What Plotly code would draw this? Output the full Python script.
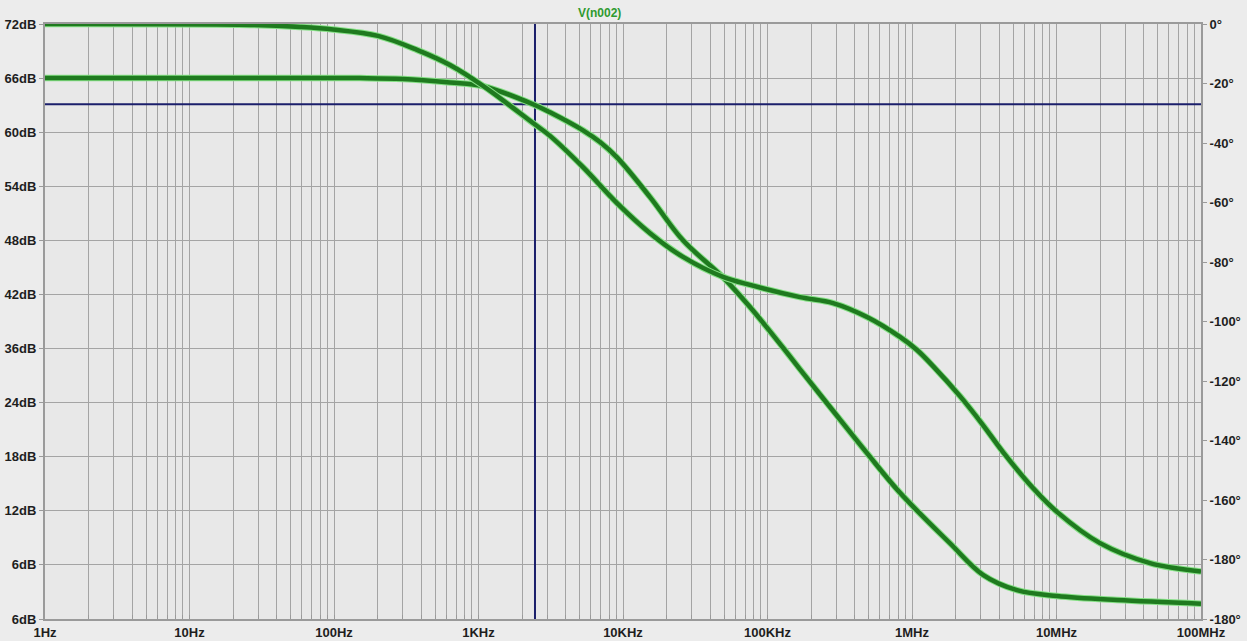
import plotly.graph_objects as go

# ---- data ----
phase_freq = [1, 26.2, 58.2, 98.4, 201.6, 375, 635, 1075, 2384, 3125, 5287, 9088, 15380,
              26020, 49210, 75660, 167900, 284000, 488300, 826100, 1.083e6, 1.398e6,
              2.149e6, 3.099e6, 4.265e6, 6.877e6, 1.008e7, 2.0e7, 4.437e7, 1.0e8]
phase_deg = [0, -0.3, -1.0, -1.85, -4.0, -8.7, -13.8, -20.8, -33.3, -37.6, -48.1, -60.2, -70.3,
             -78.3, -85.0, -87.7, -91.8, -93.8, -98.5, -105.2, -109.6, -115.0,
             -125.1, -134.8, -143.9, -156.0, -164.0, -174.5, -181.2, -184.0]

mag_freq = [1, 26.2, 151, 300, 635, 1075, 2384, 3125, 5287, 6930, 9088, 15380, 26020,
            49210, 75660, 128000, 167900, 284000, 488300, 826100, 1.832e6, 3.099e6,
            5.33e6, 1.008e7, 2.623e7, 1.0e8]
mag_db = [66.0, 66.0, 66.0, 65.9, 65.5, 65.1, 63.1, 62.2, 60.2, 58.9, 57.2, 52.8, 48.0,
          43.9, 40.6, 36.1, 33.7, 29.1, 24.4, 20.0, 14.4, 10.9, 9.2, 8.55, 8.1, 7.7]

cursor_freq = 2460
cursor_db = 63.1

x_major = [1, 10, 100, 1e3, 1e4, 1e5, 1e6, 1e7, 1e8]
x_labels = ["1Hz", "10Hz", "100Hz", "1KHz", "10KHz", "100KHz", "1MHz", "10MHz", "100MHz"]
y_vals = [6, 12, 18, 24, 30, 36, 42, 48, 54, 60, 66, 72]
y_labels = ["6dB", "6dB", "12dB", "18dB", "24dB", "36dB", "42dB", "48dB", "54dB",
            "60dB", "66dB", "72dB"]
y2_vals = [0, -20, -40, -60, -80, -100, -120, -140, -160, -180, -200]
y2_labels = ["0°", "-20°", "-40°", "-60°", "-80°", "-100°", "-120°", "-140°",
             "-160°", "-180°", "-180°"]
title_text = "V(n002)"

# minor log grid positions
x_ticks = []
x_text = []
for i, m in enumerate(x_major):
    x_ticks.append(m)
    x_text.append(x_labels[i])
    if i < len(x_major) - 1:
        for k in range(2, 10):
            x_ticks.append(m * k)
            x_text.append("")

GLOW = "#86e086"
LINE = "#1f7a1f"
CURSOR = "#1b1f6b"

fig = go.Figure()

# cursor lines
fig.add_trace(go.Scatter(x=[cursor_freq, cursor_freq], y=[6, 72], mode="lines",
                         line=dict(color=CURSOR, width=2), hoverinfo="skip", showlegend=False))
fig.add_trace(go.Scatter(x=[1, 1e8], y=[cursor_db, cursor_db], mode="lines",
                         line=dict(color=CURSOR, width=2), hoverinfo="skip", showlegend=False))

for fx, fy, ax in [(mag_freq, mag_db, "y"), (phase_freq, phase_deg, "y2")]:
    fig.add_trace(go.Scatter(x=fx, y=fy, yaxis=ax, mode="lines",
                             line=dict(color=GLOW, width=6.5, shape="spline", smoothing=1.0),
                             hoverinfo="skip", showlegend=False))
    fig.add_trace(go.Scatter(x=fx, y=fy, yaxis=ax, mode="lines",
                             line=dict(color=LINE, width=4.5, shape="spline", smoothing=1.0),
                             showlegend=False))

tickfont = dict(family="Liberation Sans, Arial, sans-serif", size=13, color="#1e1e1e", weight="bold")

fig.update_layout(
    width=1247, height=641,
    margin=dict(l=45, r=46, t=24, b=22, autoexpand=False),
    paper_bgcolor="#ececec",
    plot_bgcolor="#e8e8e8",
    showlegend=False,
    xaxis=dict(type="log", range=[0, 8], tickvals=x_ticks, ticktext=x_text,
               showgrid=True, gridcolor="#a4a4a4", gridwidth=1,
               showline=True, linecolor="#9a9a9a", linewidth=2, mirror=True,
               ticks="inside", ticklen=4, tickcolor="#9a9a9a",
               tickfont=tickfont, zeroline=False, automargin=False),
    yaxis=dict(range=[6, 72], tickvals=y_vals, ticktext=y_labels,
               showgrid=True, gridcolor="#a4a4a4", gridwidth=1,
               showline=True, linecolor="#9a9a9a", linewidth=2, mirror=True,
               ticks="outside", ticklen=4, tickcolor="#9a9a9a",
               tickfont=tickfont, zeroline=False, automargin=False),
    yaxis2=dict(range=[-200, 0], overlaying="y", side="right",
                tickvals=y2_vals, ticktext=y2_labels, showgrid=False,
                ticks="outside", ticklen=5, tickcolor="#9a9a9a",
                tickfont=tickfont, zeroline=False, showline=False, automargin=False),
    annotations=[dict(text=title_text, xref="paper", yref="paper", x=0.48, y=1,
                      yanchor="bottom", xanchor="center", showarrow=False, yshift=2,
                      font=dict(family="Liberation Sans, Arial, sans-serif", size=12,
                                color="#2f9a2f", weight="bold"))],
)

fig.write_html("out.html", config={"displayModeBar": False},
               post_script="document.body.style.margin='0';document.body.style.overflow='hidden';")
